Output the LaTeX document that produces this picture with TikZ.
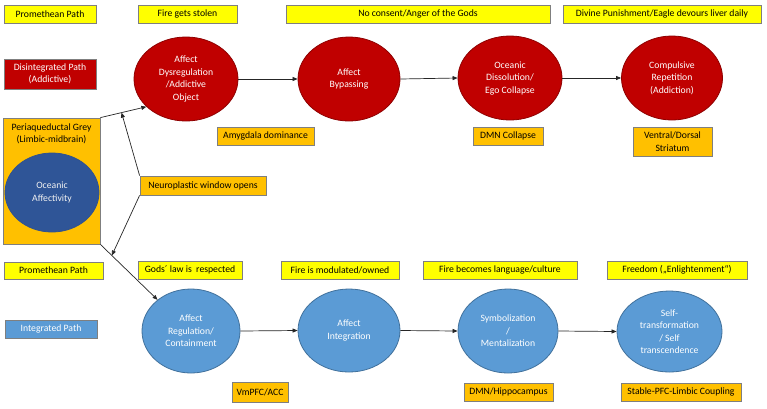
\documentclass[tikz,border=0pt]{standalone}
\usepackage{fontspec}
\setmainfont{Carlito}
\usetikzlibrary{shapes.geometric,arrows.meta}
\definecolor{yel}{HTML}{FFFF00}
\definecolor{org}{HTML}{FFC000}
\definecolor{rd}{HTML}{C00000}
\definecolor{rdb}{HTML}{8E0000}
\definecolor{bl}{HTML}{5B9BD5}
\definecolor{blb}{HTML}{41719C}
\definecolor{dbl}{HTML}{2F5597}
\definecolor{dblb}{HTML}{2F528F}
\definecolor{bord}{HTML}{7F7F7F}
\definecolor{ln}{HTML}{262626}
\tikzset{
  txt/.style={font=\fontsize{9.7}{12.5}\selectfont, align=center},
  ybox/.style={txt, rectangle, draw=bord, fill=yel, line width=0.8pt, inner sep=0pt, text=black},
  obox/.style={txt, rectangle, draw=bord, fill=org, line width=0.8pt, inner sep=0pt, text=black},
  rlabel/.style={txt, rectangle, draw=bord, fill=rd, line width=0.8pt, inner sep=0pt, text=white},
  blabel/.style={txt, rectangle, draw=bord, fill=bl, line width=0.8pt, inner sep=0pt, text=white},
  rnode/.style={txt, ellipse, draw=rdb, fill=rd, line width=0.8pt, inner sep=0pt, text=white},
  bnode/.style={txt, ellipse, draw=blb, fill=bl, line width=0.8pt, inner sep=0pt, text=white},
  dnode/.style={txt, ellipse, draw=dblb, fill=dbl, line width=0.8pt, inner sep=0pt, text=white!90!gray},
  conn/.style={draw=ln, line width=0.7pt, -{Triangle[length=5pt,width=4pt]}},
}
\begin{document}
\begin{tikzpicture}[x=1pt,y=-1pt]
\useasboundingbox[fill=white] (0,0) rectangle (767,408);

% top yellow row
\node[ybox, minimum width=92, minimum height=18] (ty1) at (50,14) {Promethean Path};
\node[ybox, minimum width=99, minimum height=18] (ty2) at (187.5,14) {Fire gets stolen};
\node[ybox, minimum width=264, minimum height=18] (ty3) at (418,14) {No consent/Anger of the Gods};
\node[ybox, minimum width=198, minimum height=18] (ty4) at (662,14) {Divine Punishment/Eagle devours liver daily};

% red label
\node[rlabel, minimum width=92, minimum height=30] (rl) at (50,74) {Disintegrated Path\\(Addictive)};

% red ellipses
\node[rnode, minimum width=104, minimum height=84] (r1) at (186,79) {Affect\\Dysregulation\\/Addictive\\Object};
\node[rnode, minimum width=102, minimum height=84] (r2) at (349,79) {Affect\\Bypassing};
\node[rnode, minimum width=104, minimum height=84] (r3) at (510,78) {Oceanic\\Dissolution/\\Ego Collapse};
\node[rnode, minimum width=101, minimum height=84] (r4) at (672,78) {Compulsive\\Repetition\\(Addiction)};

% orange boxes (top)
\node[obox, minimum width=97, minimum height=18] (oa) at (265.5,136) {Amygdala dominance};
\node[obox, minimum width=70, minimum height=18] (od) at (508,136) {DMN Collapse};
\node[obox, minimum width=79, minimum height=29] (ov) at (672.5,141.5) {Ventral/Dorsal\\Striatum};
\node[obox, minimum width=126, minimum height=19] (on) at (203,185.5) {Neuroplastic window opens};

% big left box
\node[obox, minimum width=97, minimum height=126] (pag) at (51.5,181) {};
\node[txt, inner sep=0pt] (pagt) at (51.5,134) {Periaqueductal Grey\\(Limbic-midbrain)};
\node[dnode, minimum width=94, minimum height=79] (oc) at (52,192.5) {Oceanic\\Affectivity};

% bottom yellow row
\node[ybox, minimum width=99, minimum height=17] (by1) at (53.5,270.5) {Promethean Path};
\node[ybox, minimum width=104, minimum height=18] (by2) at (190,270) {Gods´ law is~ respected};
\node[ybox, minimum width=118, minimum height=18] (by3) at (340,270) {Fire is modulated/owned};
\node[ybox, minimum width=154, minimum height=18] (by4) at (500,270) {Fire becomes language/culture};
\node[ybox, minimum width=140, minimum height=18] (by5) at (677,270) {Freedom („Enlightenment“)};

% blue label
\node[blabel, minimum width=92, minimum height=18] (bl) at (51,329) {Integrated Path};

% blue ellipses
\node[bnode, minimum width=98, minimum height=84] (b1) at (191,331) {Affect\\Regulation/\\Containment};
\node[bnode, minimum width=102, minimum height=83] (b2) at (349,330.5) {Affect\\Integration};
\node[bnode, minimum width=100, minimum height=84] (b3) at (508,331) {Symbolization\\/\\Mentalization};
\node[bnode, minimum width=105, minimum height=81] (b4) at (669.5,331.5) {Self-\\transformation\\/ Self\\transcendence};

% orange boxes (bottom)
\node[obox, minimum width=56, minimum height=20] (ovm) at (260,392) {VmPFC/ACC};
\node[obox, minimum width=89, minimum height=18] (odh) at (508.5,392) {DMN/Hippocampus};
\node[obox, minimum width=120, minimum height=18] (osc) at (681,392) {Stable-PFC-Limbic Coupling};

% connectors
\draw[conn] (r1.east) -- (r2.west);
\draw[conn] (r2.east) -- (r3.west);
\draw[conn] (r3.east) -- (r4.west);
\draw[conn] (b1.east) -- (b2.west);
\draw[conn] (b2.east) -- (b3.west);
\draw[conn] (b3.east) -- (b4.west);

\draw[conn] (pag.north east) -- (r1.215) coordinate[pos=0.46] (c1);
\draw[conn] (pag.south east) -- (b1.137) coordinate[pos=0.2] (c2);
\draw[conn] (on.north west) -- (c1);
\draw[conn] (on.south west) -- (c2);
\end{tikzpicture}
\end{document}
